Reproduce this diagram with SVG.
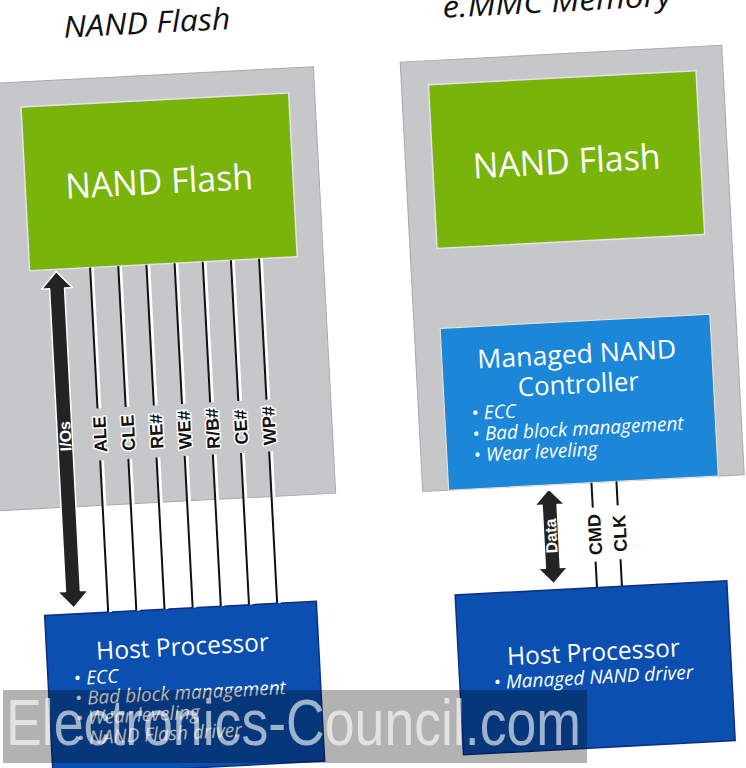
<svg xmlns="http://www.w3.org/2000/svg" width="746" height="768" viewBox="0 0 746 768">
<style>
  .title{font-family:"Open Sans","Liberation Sans",sans-serif;font-style:italic;font-size:30px;fill:#111;text-anchor:middle}
  .panel{fill:#c6c7c9;stroke:#a8a9ab;stroke-width:1}
  .green{fill:#78b40a;stroke:#e8dff0;stroke-width:1.5}
  .ctrl{fill:#1c87d9;stroke:#f0e6d8;stroke-width:1}
  .host{fill:#0b4fb0;stroke:#0a2f85;stroke-width:1.5}
  .big{font-family:"Open Sans","Liberation Sans",sans-serif;fill:#fff;text-anchor:middle}
  .bul{font-family:"Open Sans","Liberation Sans",sans-serif;font-style:italic;font-size:19px;fill:#fff}
  .halo{fill:none;stroke:#fff;stroke-width:4}
  .wire{fill:none;stroke:#111;stroke-width:2}
  .lbl{font-family:"Liberation Sans",Arial,sans-serif;font-weight:bold;font-size:18px;fill:#111;stroke:#fff;stroke-width:3;paint-order:stroke;stroke-linejoin:round;text-anchor:middle;dominant-baseline:central}
  .arrow{fill:#232323;stroke:#fff;stroke-width:1.5;stroke-linejoin:round}
  .alb{font-family:"Liberation Sans",Arial,sans-serif;font-weight:bold;font-size:16px;fill:#fff;text-anchor:middle;dominant-baseline:central}
</style>
<rect width="746" height="768" fill="#fff"/>
<g transform="rotate(-3 373 384)">
  <g id="title-left"><text class="title" x="166" y="22" textLength="167" lengthAdjust="spacingAndGlyphs">NAND Flash</text></g>
  <g id="title-right"><text class="title" x="577" y="22" textLength="230" lengthAdjust="spacingAndGlyphs">e.MMC Memory</text></g>

  <g id="panel-nand"><rect class="panel" x="-30" y="64" width="360" height="427"/></g>
  <g id="panel-emmc"><rect class="panel" x="417" y="64" width="322" height="430"/></g>

  <g id="nand-flash-left">
    <rect class="green" x="36" y="89" width="268" height="164"/>
    <text class="big" x="170" y="183" font-size="35" textLength="188" lengthAdjust="spacingAndGlyphs">NAND Flash</text>
  </g>
  <g id="nand-flash-right">
    <rect class="green" x="444" y="88" width="268" height="164"/>
    <text class="big" x="578" y="184" font-size="35" textLength="188" lengthAdjust="spacingAndGlyphs">NAND Flash</text>
  </g>

  <g id="controller">
    <rect class="ctrl" x="443" y="332" width="270" height="162"/>
    <text class="big" x="578" y="374" font-size="26" textLength="199" lengthAdjust="spacingAndGlyphs">Managed NAND</text>
    <text class="big" x="578" y="404" font-size="26" textLength="121" lengthAdjust="spacingAndGlyphs">Controller</text>
    <text class="bul" x="470" y="425"><tspan font-style="normal">•</tspan> ECC</text>
    <text class="bul" x="470" y="446"><tspan font-style="normal">•</tspan> Bad block management</text>
    <text class="bul" x="470" y="467"><tspan font-style="normal">•</tspan> Wear leveling</text>
  </g>

  <g id="host-left">
    <rect class="host" x="33" y="598" width="272" height="160"/>
    <text class="big" x="169" y="645" font-size="25" textLength="173" lengthAdjust="spacingAndGlyphs">Host Processor</text>
    <text class="bul" x="59" y="669"><tspan font-style="normal">•</tspan> ECC</text>
    <text class="bul" x="59" y="689"><tspan font-style="normal">•</tspan> Bad block management</text>
    <text class="bul" x="59" y="709"><tspan font-style="normal">•</tspan> Wear leveling</text>
    <text class="bul" x="59" y="729"><tspan font-style="normal">•</tspan> NAND Flash driver</text>
  </g>
  <g id="host-right">
    <rect class="host" x="444" y="599" width="272" height="160"/>
    <text class="big" x="579" y="672" font-size="25" textLength="173" lengthAdjust="spacingAndGlyphs">Host Processor</text>
    <text class="bul" x="478" y="695"><tspan font-style="normal">•</tspan> Managed NAND driver</text>
  </g>

  <g id="connectors">
    <path class="halo" d="M98.4 253V394M98.4 446V598M126.6 253V394M126.6 446V598M154.8 253V394M154.8 446V598M183 253V394M183 446V598M211.2 253V394M211.2 446V598M239.4 253V394M239.4 446V598M267.6 253V394M267.6 446V598"/>
    <path class="wire" d="M96.6 253V394M96.6 446V598M124.8 253V394M124.8 446V598M153 253V394M153 446V598M181.2 253V394M181.2 446V598M209.4 253V394M209.4 446V598M237.6 253V394M237.6 446V598M265.8 253V394M265.8 446V598"/>
    <text class="lbl" transform="translate(98 420) rotate(-90)">ALE</text>
    <text class="lbl" transform="translate(126.2 420) rotate(-90)">CLE</text>
    <text class="lbl" transform="translate(154.4 420) rotate(-90)">RE#</text>
    <text class="lbl" transform="translate(182.6 420) rotate(-90)">WE#</text>
    <text class="lbl" transform="translate(210.8 420) rotate(-90)">R/B#</text>
    <text class="lbl" transform="translate(239 420) rotate(-90)">CE#</text>
    <text class="lbl" transform="translate(267.2 420) rotate(-90)">WP#</text>

    <polygon class="arrow" points="62.5,255 78,272 70,272 70,575 78,575 62.5,592 47,575 55,575 55,272 47,272"/>
    <text class="alb" transform="translate(63 420) rotate(-90)">I/Os</text>

    <polygon class="arrow" points="543,498 558,514 550.5,514 550.5,577 558,577 543,593 528,577 535.5,577 535.5,514 528,514"/>
    <text class="alb" font-size="17" transform="translate(543 545) rotate(-90)">Data</text>

    <path class="wire" d="M586 494V519M586 573V599M611 494V518M611 572V599"/>
    <text class="lbl" transform="translate(587 546) rotate(-90)">CMD</text>
    <text class="lbl" transform="translate(612 546) rotate(-90)">CLK</text>
  </g>
</g>
<g id="watermark">
  <rect x="3" y="690" width="584" height="73" fill="#000" fill-opacity="0.3"/>
  <text x="6" y="745" font-family="Liberation Sans,Arial,sans-serif" font-size="65" fill="#fff" fill-opacity="0.62" textLength="575" lengthAdjust="spacingAndGlyphs">Electronics-Council.com</text>
</g>
</svg>
